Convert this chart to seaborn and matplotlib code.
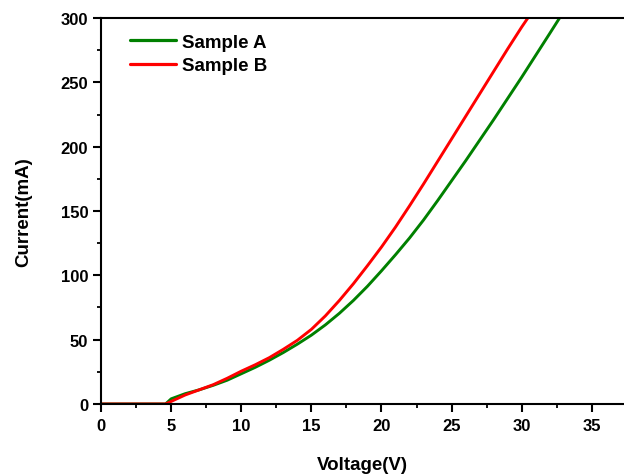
import numpy as np
import pandas as pd
import matplotlib
matplotlib.use("Agg")
import matplotlib.pyplot as plt
from matplotlib.ticker import MultipleLocator
import seaborn as sns

# Data
volt_a = [0, 1, 2, 3, 4, 4.6, 4.8, 5, 5.5, 6, 7, 8, 9, 10, 11, 12, 13, 14, 15, 16,
          17, 18, 19, 20, 21, 22, 23, 24, 25, 26, 27, 28, 29, 30, 31, 32, 32.7]
curr_a = [0, 0, 0, 0, 0, 0, 2, 4, 6, 8, 11, 14.5, 18.5, 23.5, 28.5, 34, 40, 46.5, 53.5, 61.5,
          70.5, 80.5, 91.5, 103.5, 116, 129, 143, 158, 173.5, 189, 205, 221, 237.5, 254, 271, 288, 300]

volt_b = [0, 1, 2, 3, 4, 4.6, 5, 5.5, 6, 7, 8, 9, 10, 11, 12, 13, 14, 15, 16,
          17, 18, 19, 20, 21, 22, 23, 24, 25, 26, 27, 28, 29, 30, 30.5]
curr_b = [0, 0, 0, 0, 0, 0, 2, 4.5, 7, 11, 15, 20, 25.5, 30.5, 36, 42.5, 49.5, 58, 68.5,
          80.5, 93.5, 107.5, 122, 137.5, 154, 171, 188.5, 206, 223.5, 241, 258.5, 276, 293, 301]

labels = ["Sample A", "Sample B"]
colors = ["#008000", "#FF0000"]

df = pd.concat([
    pd.DataFrame({"Voltage": volt_a, "Current": curr_a, "Sample": labels[0]}),
    pd.DataFrame({"Voltage": volt_b, "Current": curr_b, "Sample": labels[1]}),
], ignore_index=True)

sns.set_style("ticks")
plt.rcParams["font.family"] = ["Liberation Sans", "DejaVu Sans"]
plt.rcParams["font.weight"] = "bold"
plt.rcParams["text.color"] = "black"
plt.rcParams["axes.labelcolor"] = "black"
plt.rcParams["xtick.color"] = "black"
plt.rcParams["ytick.color"] = "black"

fig = plt.figure(figsize=(6.24, 4.77), dpi=100)
ax = fig.add_axes([0.162, 0.151, 0.838, 0.809])

sns.lineplot(data=df, x="Voltage", y="Current", hue="Sample",
             palette=dict(zip(labels, colors)), linewidth=2.1,
             sort=False, estimator=None, ax=ax)

ax.set_xlim(0, 37.3)
ax.set_ylim(0, 300)
ax.xaxis.set_major_locator(MultipleLocator(5))
ax.xaxis.set_minor_locator(MultipleLocator(2.5))
ax.yaxis.set_major_locator(MultipleLocator(50))
ax.yaxis.set_minor_locator(MultipleLocator(25))

for s in ["left", "bottom", "top"]:
    ax.spines[s].set_linewidth(1.5)
    ax.spines[s].set_color("black")
ax.spines["right"].set_visible(False)

ax.tick_params(which="major", direction="out", length=5.8, width=1.5,
               labelsize=12, colors="black", top=False, right=False)
ax.tick_params(axis="x", which="major", pad=4.5)
ax.tick_params(axis="y", which="major", pad=3.5)
ax.tick_params(which="minor", direction="out", length=3.2, width=1.3,
               colors="black", top=False, right=False)
for lab in ax.get_xticklabels() + ax.get_yticklabels():
    lab.set_fontweight("bold")

ax.set_xlabel("Voltage(V)", fontsize=13.5, fontweight="bold", color="black")
ax.set_ylabel("Current(mA)", fontsize=13.5, fontweight="bold", color="black")
ax.xaxis.set_label_coords(0.5, -0.135)
ax.yaxis.set_label_coords(-0.132, 0.5)

leg = ax.legend(loc="upper left", bbox_to_anchor=(0.055, 0.959), frameon=False,
                prop={"weight": "bold", "size": 13.5}, handlelength=2.45,
                handletextpad=0.35, labelspacing=0.32, borderpad=0,
                borderaxespad=0)
for line in leg.get_lines():
    line.set_linewidth(2.3)
for t in leg.get_texts():
    t.set_color("black")

fig.savefig("out.png", dpi=100)
